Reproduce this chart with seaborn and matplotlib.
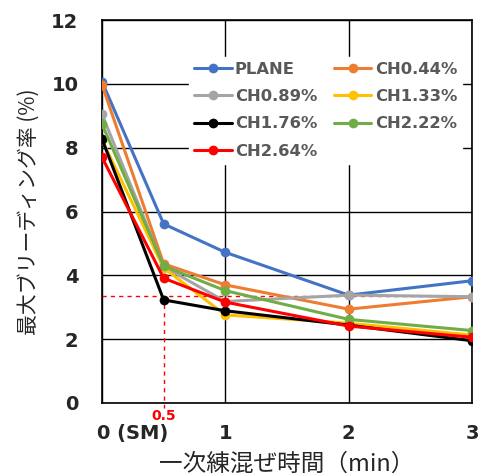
import matplotlib
matplotlib.use("Agg")
import matplotlib.pyplot as plt
import matplotlib.transforms as mtransforms
import seaborn as sns
import pandas as pd

times = [0, 0.5, 1, 2, 3]
plane = [10.07, 5.61, 4.72, 3.38, 3.83]
ch044 = [9.97, 4.36, 3.70, 2.94, 3.33]
ch089 = [9.05, 4.27, 3.18, 3.38, 3.33]
ch133 = [8.24, 4.23, 2.76, 2.50, 2.13]
ch176 = [8.27, 3.23, 2.89, 2.44, 1.95]
ch222 = [8.74, 4.29, 3.52, 2.62, 2.27]
ch264 = [7.70, 3.91, 3.16, 2.41, 2.06]
series_names = ["PLANE", "CH0.44%", "CH0.89%", "CH1.33%", "CH1.76%", "CH2.22%", "CH2.64%"]
series_values = [plane, ch044, ch089, ch133, ch176, ch222, ch264]
colors = ["#4472C4", "#ED7D31", "#A5A5A5", "#FFC000", "#000000", "#70AD47", "#FF0000"]
xtick_vals = [0, 1, 2, 3]
xtick_labels = ["0 (SM)", "1", "2", "3"]
ytick_vals = [0, 2, 4, 6, 8, 10, 12]
ref_x = 0.5
ref_y = 3.35

sns.set_style("white")
plt.rcParams["font.family"] = ["DejaVu Sans", "Noto Sans CJK JP"]

rows = []
for name, vals in zip(series_names, series_values):
    for t, v in zip(times, vals):
        rows.append({"time": t, "value": v, "series": name})
df = pd.DataFrame(rows)

fig = plt.figure(figsize=(4.85, 4.75), dpi=100)
ax = fig.add_axes([102/485, 72/475, 370/485, 383/475])

sns.lineplot(data=df, x="time", y="value", hue="series", hue_order=series_names,
             palette=colors, marker="o", markersize=7, markeredgewidth=0,
             linewidth=2.2, ax=ax, zorder=3)

ax.set_xlim(0, 3)
ax.set_ylim(0, 12)
ax.set_xticks(xtick_vals)
ax.set_xticklabels(xtick_labels)
ax.set_yticks(ytick_vals)
ax.grid(True, color="black", linewidth=1.0, zorder=0)
ax.set_axisbelow(True)
for s in ax.spines.values():
    s.set_color("black")
    s.set_linewidth(1.2)
ax.tick_params(axis="both", length=0, labelsize=14)
ax.tick_params(axis="x", pad=15)
ax.tick_params(axis="y", pad=17)
for lab in ax.get_xticklabels() + ax.get_yticklabels():
    lab.set_fontweight("bold")
first = ax.get_xticklabels()[0]
first.set_horizontalalignment("left")
first.set_transform(first.get_transform() + mtransforms.ScaledTranslation(-5/100, 0, fig.dpi_scale_trans))

# reference dashed lines
ax.plot([0, 3], [ref_y, ref_y], color="#FF0000", linewidth=1.0, linestyle=(0, (3, 3)), zorder=2, clip_on=False)
ax.plot([ref_x, ref_x], [ref_y, -0.15], color="#FF0000", linewidth=1.0, linestyle=(0, (3, 3)), zorder=2, clip_on=False)
ax.text(ref_x, -0.2, "0.5", color="#FF0000", fontsize=10, fontweight="bold",
        ha="center", va="top")

ax.set_xlabel("一次練混ぜ時間（min）", family=["Noto Sans CJK JP", "DejaVu Sans"], fontsize=17, labelpad=7)
ax.set_ylabel("最大ブリーディング率 (%)", family=["Noto Sans CJK JP", "DejaVu Sans"], fontsize=15, labelpad=8)

handles, labels = ax.get_legend_handles_labels()
order = [0, 2, 4, 6, 1, 3, 5]
leg = ax.legend([handles[i] for i in order], [labels[i] for i in order],
                loc="upper right", bbox_to_anchor=(0.995, 0.925), ncol=2,
                frameon=True, fancybox=False, framealpha=1.0, edgecolor="white",
                facecolor="white", handlelength=2.3, handletextpad=0.2,
                columnspacing=1.0, labelspacing=0.75, borderpad=0.3,
                prop={"weight": "bold", "size": 11.8})
for t in leg.get_texts():
    t.set_color("#595959")
leg.set_zorder(5)

fig.savefig("out.png", dpi=100)
